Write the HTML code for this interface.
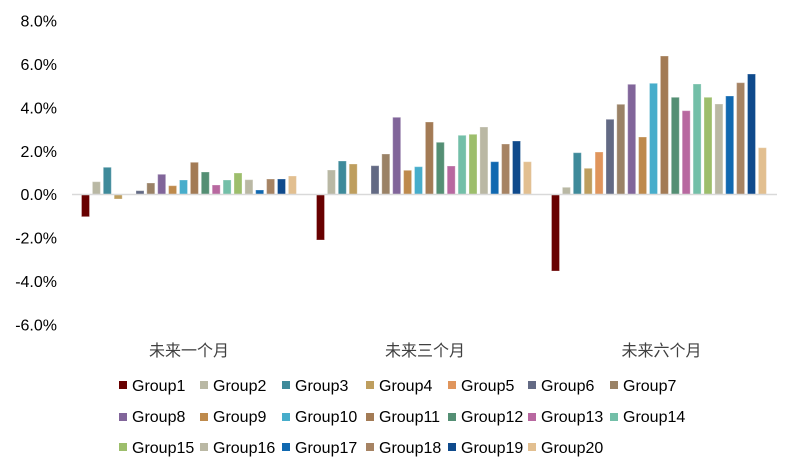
<!DOCTYPE html>
<html><head><meta charset="utf-8"><style>
html,body{margin:0;padding:0;background:#fff;}
svg{display:block;}
.yl{font-family:"Liberation Sans",Arial,sans-serif;font-size:16px;fill:#000;text-anchor:end;}
.cl{font-family:"Liberation Sans","Noto Sans CJK SC",sans-serif;font-size:16px;fill:#404040;text-anchor:middle;}
.lg{font-family:"Liberation Sans",Arial,sans-serif;font-size:16px;fill:#000;}
rect.b{stroke:#fff;stroke-opacity:0.3;stroke-width:1;}
.c1{fill:#680000}.c2{fill:#B9B8A4}.c3{fill:#3E8A9A}.c4{fill:#BE9E5E}.c5{fill:#E0955C}
.c6{fill:#636A84}.c7{fill:#9A8266}.c8{fill:#81659A}.c9{fill:#BE8A4C}.c10{fill:#47ADCB}
.c11{fill:#A37B55}.c12{fill:#548F74}.c13{fill:#B868A0}.c14{fill:#73BFA8}.c15{fill:#9DBE6C}
.c16{fill:#BAB8A4}.c17{fill:#1068B0}.c18{fill:#A68363}.c19{fill:#0F4A8C}.c20{fill:#E2BF90}
</style></head><body>
<svg width="787" height="463" viewBox="0 0 787 463" xmlns="http://www.w3.org/2000/svg">
<!-- y labels -->
<text class="yl" x="57" y="26.5">8.0%</text>
<text class="yl" x="57" y="70">6.0%</text>
<text class="yl" x="57" y="113.4">4.0%</text>
<text class="yl" x="57" y="156.8">2.0%</text>
<text class="yl" x="57" y="200.2">0.0%</text>
<text class="yl" x="57" y="243.7">-2.0%</text>
<text class="yl" x="57" y="287.1">-4.0%</text>
<text class="yl" x="57" y="330.5">-6.0%</text>

<!-- category 1 -->
<rect class="b c1" x="81.5" y="194.5" width="8" height="22.2"/>
<rect class="b c2" x="92.4" y="181.7" width="8" height="12.8"/>
<rect class="b c3" x="103.3" y="167.3" width="8" height="27.2"/>
<rect class="b c4" x="114.2" y="194.5" width="8" height="4.5"/>
<rect class="b c6" x="136" y="190.7" width="8" height="3.8"/>
<rect class="b c7" x="146.8" y="183" width="8" height="11.5"/>
<rect class="b c8" x="157.7" y="174.3" width="8" height="20.2"/>
<rect class="b c9" x="168.6" y="185.7" width="8" height="8.8"/>
<rect class="b c10" x="179.5" y="180" width="8" height="14.5"/>
<rect class="b c11" x="190.4" y="162.3" width="8" height="32.2"/>
<rect class="b c12" x="201.3" y="172" width="8" height="22.5"/>
<rect class="b c13" x="212.2" y="185" width="8" height="9.5"/>
<rect class="b c14" x="223.1" y="180" width="8" height="14.5"/>
<rect class="b c15" x="234" y="173" width="8" height="21.5"/>
<rect class="b c16" x="244.9" y="179.7" width="8" height="14.8"/>
<rect class="b c17" x="255.7" y="190" width="8" height="4.5"/>
<rect class="b c18" x="266.6" y="179" width="8" height="15.5"/>
<rect class="b c19" x="277.5" y="179" width="8" height="15.5"/>
<rect class="b c20" x="288.4" y="176" width="8" height="18.5"/>

<!-- category 2 -->
<rect class="b c1" x="316.5" y="194.5" width="8" height="45.5"/>
<rect class="b c2" x="327.4" y="170" width="8" height="24.5"/>
<rect class="b c3" x="338.3" y="161" width="8" height="33.5"/>
<rect class="b c4" x="349.2" y="164" width="8" height="30.5"/>
<rect class="b c6" x="371" y="165.7" width="8" height="28.8"/>
<rect class="b c7" x="381.8" y="154" width="8" height="40.5"/>
<rect class="b c8" x="392.7" y="117.3" width="8" height="77.2"/>
<rect class="b c9" x="403.6" y="170.3" width="8" height="24.2"/>
<rect class="b c10" x="414.5" y="166.7" width="8" height="27.8"/>
<rect class="b c11" x="425.4" y="122" width="8" height="72.5"/>
<rect class="b c12" x="436.3" y="142.3" width="8" height="52.2"/>
<rect class="b c13" x="447.2" y="166" width="8" height="28.5"/>
<rect class="b c14" x="458.1" y="135.3" width="8" height="59.2"/>
<rect class="b c15" x="469" y="134.3" width="8" height="60.2"/>
<rect class="b c16" x="479.9" y="127" width="8" height="67.5"/>
<rect class="b c17" x="490.7" y="161.7" width="8" height="32.8"/>
<rect class="b c18" x="501.6" y="144" width="8" height="50.5"/>
<rect class="b c19" x="512.5" y="141" width="8" height="53.5"/>
<rect class="b c20" x="523.4" y="161.7" width="8" height="32.8"/>

<!-- category 3 -->
<rect class="b c1" x="551.5" y="194.5" width="8" height="76.5"/>
<rect class="b c2" x="562.4" y="187.3" width="8" height="7.2"/>
<rect class="b c3" x="573.3" y="152.7" width="8" height="41.8"/>
<rect class="b c4" x="584.2" y="168.3" width="8" height="26.2"/>
<rect class="b c5" x="595.1" y="152" width="8" height="42.5"/>
<rect class="b c6" x="606" y="119.3" width="8" height="75.2"/>
<rect class="b c7" x="616.8" y="104.3" width="8" height="90.2"/>
<rect class="b c8" x="627.7" y="84.3" width="8" height="110.2"/>
<rect class="b c9" x="638.6" y="137" width="8" height="57.5"/>
<rect class="b c10" x="649.5" y="83.3" width="8" height="111.2"/>
<rect class="b c11" x="660.4" y="56" width="8" height="138.5"/>
<rect class="b c12" x="671.3" y="97.3" width="8" height="97.2"/>
<rect class="b c13" x="682.2" y="110.7" width="8" height="83.8"/>
<rect class="b c14" x="693.1" y="84" width="8" height="110.5"/>
<rect class="b c15" x="704" y="97.3" width="8" height="97.2"/>
<rect class="b c16" x="714.9" y="104" width="8" height="90.5"/>
<rect class="b c17" x="725.7" y="96" width="8" height="98.5"/>
<rect class="b c18" x="736.6" y="82.7" width="8" height="111.8"/>
<rect class="b c19" x="747.5" y="74" width="8" height="120.5"/>
<rect class="b c20" x="758.4" y="147.7" width="8" height="46.8"/>

<!-- zero axis -->
<line x1="72" y1="194.5" x2="777" y2="194.5" stroke="#D9D9D9" stroke-width="1.5"/>

<!-- category labels -->
<text class="cl" x="189" y="356">未来一个月</text>
<text class="cl" x="425" y="356">未来三个月</text>
<text class="cl" x="661.5" y="356">未来六个月</text>

<!-- legend row 1 -->
<rect class="c1" x="119" y="381" width="8" height="8"/><text class="lg" x="132" y="391">Group1</text>
<rect class="c2" x="200" y="381" width="8" height="8"/><text class="lg" x="213" y="391">Group2</text>
<rect class="c3" x="282" y="381" width="8" height="8"/><text class="lg" x="295" y="391">Group3</text>
<rect class="c4" x="366" y="381" width="8" height="8"/><text class="lg" x="379" y="391">Group4</text>
<rect class="c5" x="448" y="381" width="8" height="8"/><text class="lg" x="461" y="391">Group5</text>
<rect class="c6" x="528" y="381" width="8" height="8"/><text class="lg" x="541" y="391">Group6</text>
<rect class="c7" x="610" y="381" width="8" height="8"/><text class="lg" x="623" y="391">Group7</text>
<!-- legend row 2 -->
<rect class="c8" x="119" y="413" width="8" height="8"/><text class="lg" x="132" y="422">Group8</text>
<rect class="c9" x="200" y="413" width="8" height="8"/><text class="lg" x="213" y="422">Group9</text>
<rect class="c10" x="282" y="413" width="8" height="8"/><text class="lg" x="295" y="422">Group10</text>
<rect class="c11" x="366" y="413" width="8" height="8"/><text class="lg" x="379" y="422">Group11</text>
<rect class="c12" x="448" y="413" width="8" height="8"/><text class="lg" x="461" y="422">Group12</text>
<rect class="c13" x="528" y="413" width="8" height="8"/><text class="lg" x="541" y="422">Group13</text>
<rect class="c14" x="610" y="413" width="8" height="8"/><text class="lg" x="623" y="422">Group14</text>
<!-- legend row 3 -->
<rect class="c15" x="119" y="443" width="8" height="8"/><text class="lg" x="132" y="453">Group15</text>
<rect class="c16" x="200" y="443" width="8" height="8"/><text class="lg" x="213" y="453">Group16</text>
<rect class="c17" x="282" y="443" width="8" height="8"/><text class="lg" x="295" y="453">Group17</text>
<rect class="c18" x="366" y="443" width="8" height="8"/><text class="lg" x="379" y="453">Group18</text>
<rect class="c19" x="448" y="443" width="8" height="8"/><text class="lg" x="461" y="453">Group19</text>
<rect class="c20" x="528" y="443" width="8" height="8"/><text class="lg" x="541" y="453">Group20</text>
</svg>
</body></html>
